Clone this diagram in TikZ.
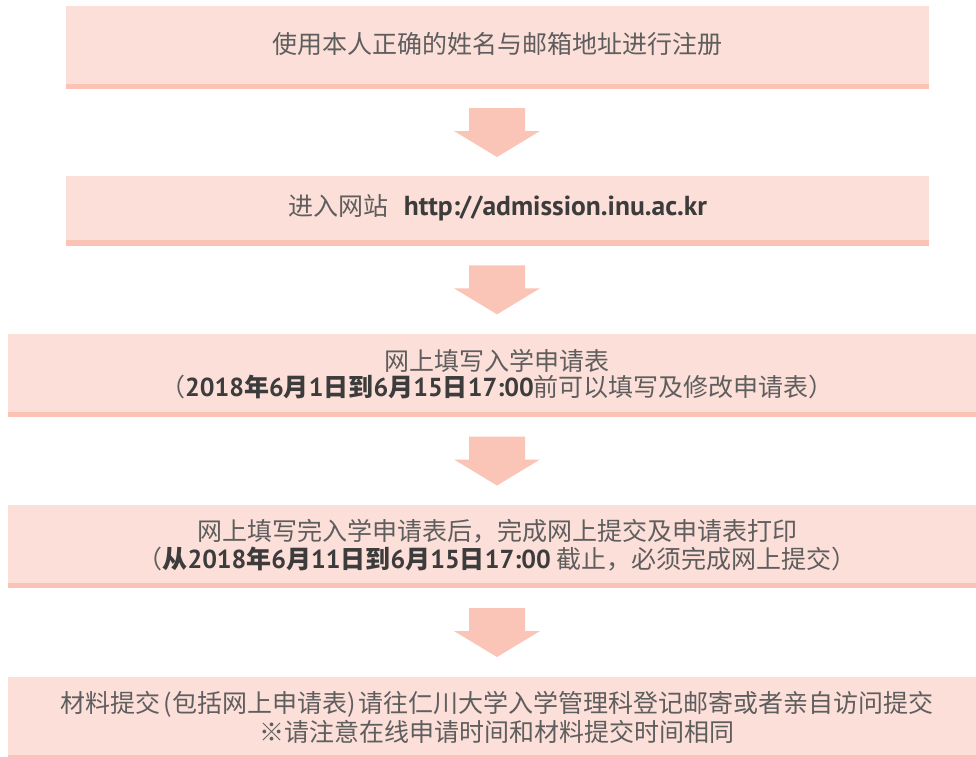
\documentclass[tikz,border=0pt]{standalone}
\usepackage{fontspec}
\usetikzlibrary{calc}
\newfontfamily\cjk{Noto Sans CJK SC}
\newfontfamily\lat{PT Sans}
\definecolor{boxfill}{HTML}{FCDFD8}
\definecolor{stripec}{HTML}{FBC3B4}
\definecolor{arrowc}{HTML}{FAC4B6}
\definecolor{txtgray}{HTML}{5E5E5E}
\definecolor{txtdark}{HTML}{3C3C3C}
\newcommand\bn[1]{{\lat\bfseries\color{txtdark}#1}}
\newcommand\bc[1]{{\cjk\bfseries\color{txtdark}#1}}
\newcommand\fatarrow[1]{\fill[arrowc] ([shift={(-28,-24.5)}]#1) -- ([shift={(28,-24.5)}]#1) -- ([shift={(28,-1.5)}]#1) -- ([shift={(43,-1.5)}]#1) -- ([shift={(0,24.5)}]#1) -- ([shift={(-43,-1.5)}]#1) -- ([shift={(-28,-1.5)}]#1) -- cycle;}
\begin{document}
\begin{tikzpicture}[x=1pt,y=-1pt,
  box/.style={rectangle, fill=boxfill, inner sep=0pt, minimum height=83pt},
  txt/.style={inner sep=0pt, align=center, text=txtgray, font=\cjk\fontsize{25}{27}\selectfont}]
\useasboundingbox (0,0) rectangle (976,756);
% boxes
\node[box, minimum width=863pt] (b1) at (497.5,47.5) {};
\node[box, minimum width=863pt, minimum height=69.6pt] (b2) at (497.5,210.8) {};
\node[box, minimum width=968pt] (b3) at (492,375.5) {};
\node[box, minimum width=968pt] (b4) at (492,546.5) {};
\node[box, minimum width=968pt] (b5) at (492,718.5) {};
\foreach \b in {b1,b2,b3,b4,b5}{
  \fill[stripec] (\b.south west) rectangle ([yshift=5.5pt]\b.south east);
}
% texts
\node[txt] (t1) at (497,44) {使用本人正确的姓名与邮箱地址进行注册};
\node[txt] (t2) at (498,208) {进入网站\hspace{15pt}{\fontsize{27.5}{29}\selectfont\bn{http://admission.inu.ac.kr}}};
\node[txt] (t3) at (497,374) {网上填写入学申请表\\[-1pt]
  （{\fontsize{26}{27}\selectfont\bn{2018}}\bc{年}{\fontsize{26}{27}\selectfont\bn{6}}\bc{月}{\fontsize{26}{27}\selectfont\bn{1}}\bc{日到}{\fontsize{26}{27}\selectfont\bn{6}}\bc{月}{\fontsize{26}{27}\selectfont\bn{15}}\bc{日}{\fontsize{26}{27}\selectfont\bn{17:00}}前可以填写及修改申请表）};
\node[txt] (t4) at (497,545) {网上填写完入学申请表后，完成网上提交及申请表打印\\[1pt]
  （\bc{从}{\fontsize{26}{27}\selectfont\bn{2018}}\bc{年}{\fontsize{26}{27}\selectfont\bn{6}}\bc{月}{\fontsize{26}{27}\selectfont\bn{11}}\bc{日到}{\fontsize{26}{27}\selectfont\bn{6}}\bc{月}{\fontsize{26}{27}\selectfont\bn{15}}\bc{日}{\fontsize{26}{27}\selectfont\bn{17:00}} 截止，必须完成网上提交）};
\node[txt] (t5) at (497,717) {材料提交\hspace{3pt}(包括网上申请表)\hspace{3pt}请往仁川大学入学管理科登记邮寄或者亲自访问提交\\[2pt]
  ※请注意在线申请时间和材料提交时间相同};
% arrows
\coordinate (m1) at ($(b1.south)!0.5!(b2.north)$);
\coordinate (m2) at ($(b2.south)!0.5!(b3.north)$);
\coordinate (m3) at ($(b3.south)!0.5!(b4.north)$);
\coordinate (m4) at ($(b4.south)!0.5!(b5.north)$);
\coordinate (a1) at (m1 -| t1);
\coordinate (a2) at (m2 -| t1);
\coordinate (a3) at (m3 -| t1);
\coordinate (a4) at (m4 -| t1);
\fatarrow{a1}
\fatarrow{a2}
\fatarrow{a3}
\fatarrow{a4}
\end{tikzpicture}
\end{document}
